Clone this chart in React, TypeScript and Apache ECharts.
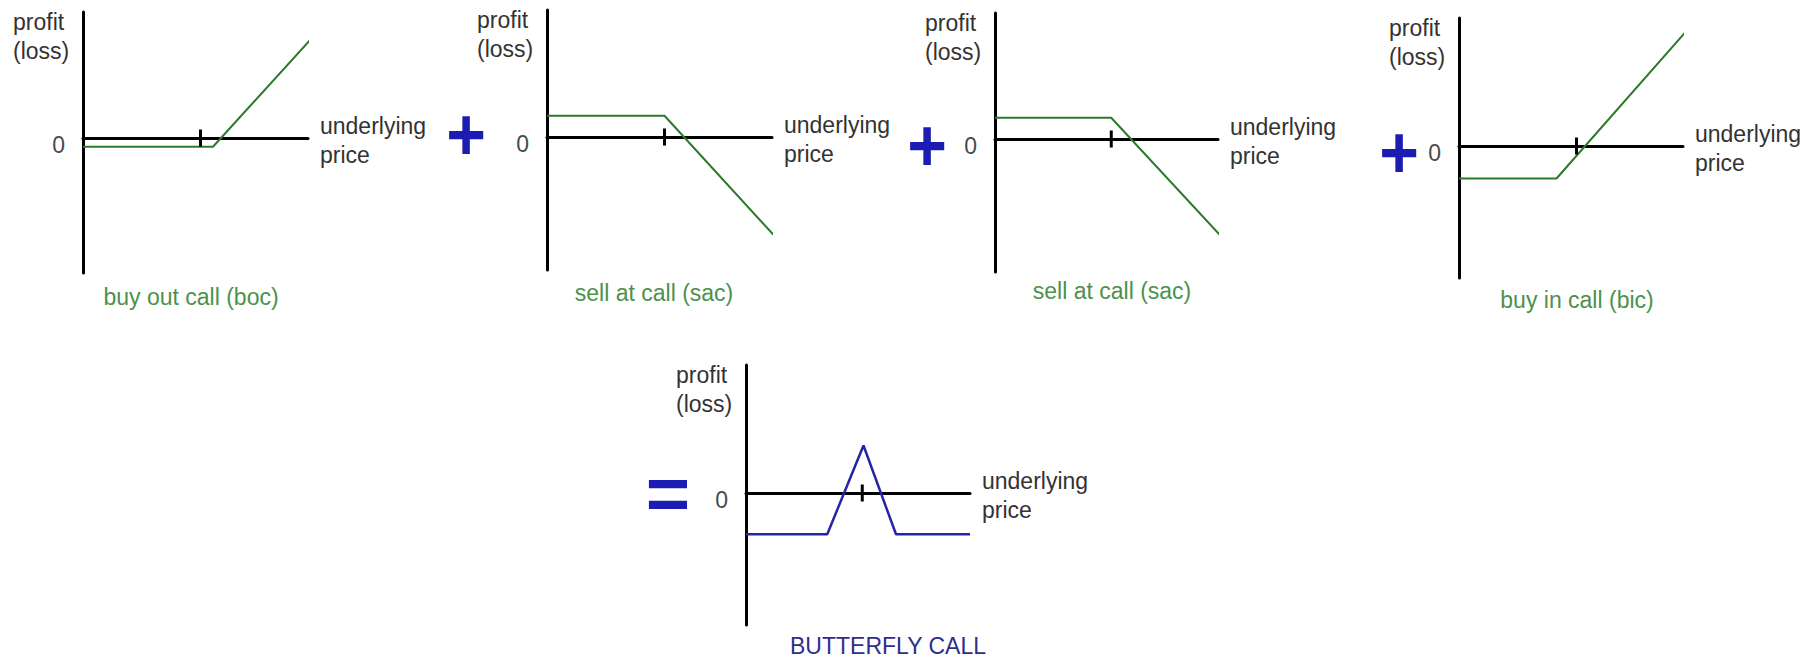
import React, { useEffect, useRef } from "react";
import * as echarts from "echarts";

// ---- data: payoff diagrams (price units on x, profit units on y) ----
const panelTitles = [
  "buy out call (boc)",
  "sell at call (sac)",
  "sell at call (sac)",
  "buy in call (bic)",
  "BUTTERFLY CALL",
];
const strikes = [47, 47, 46.5, 47, 46.5];
const bocPayoff = [[0, -3.5], [52, -3.5], [92, 40.5]];
const sacPayoff = [[0, 8.5], [47, 8.5], [90.5, -39]];
const sacPayoff2 = [[0, 8.5], [46.5, 8.5], [91, -39.5]];
const bicPayoff = [[0, -13], [39, -13], [90.5, 45.5]];
const butterflyPayoff = [[0, -16.5], [32.5, -16.5], [47, 19], [60, -16.5], [89.6, -16.5]];
const payoffs = [bocPayoff, sacPayoff, sacPayoff2, bicPayoff, butterflyPayoff];
const yAxisName = ["profit", "(loss)"];
const xAxisName = ["underlying", "price"];
const operators = ["+", "+", "+", "="];
const zeroLabel = "0";

// ---- layout (pixels) ----
const PX_PER_UNIT = 2.5;
const frames = [
  { left: 83, right: 308, top: 12, bottom: 273, zero: 138, cx: 191, cy: 297 },
  { left: 547, right: 772, top: 10, bottom: 270, zero: 137, cx: 654, cy: 293 },
  { left: 995, right: 1218, top: 13, bottom: 272, zero: 139, cx: 1112, cy: 291 },
  { left: 1459, right: 1683, top: 18, bottom: 278, zero: 146, cx: 1577, cy: 300 },
  { left: 746, right: 970, top: 365, bottom: 625, zero: 493, cx: 888, cy: 646 },
];
const operatorPos = [
  [466, 134],
  [927, 145],
  [1399, 152],
  [668, 493],
];

const FONT_FAMILY = '"Liberation Sans", Arial, sans-serif';
const LEG_GREEN = "#2b7a2b";
const CAPTION_GREEN = "#4c914c";
const RESULT_BLUE = "#2424a6";
const CAPTION_BLUE = "#2e2e8e";
const OPERATOR_BLUE = "#1c1cb2";
const TEXT_GRAY = "#333333";

export default function App() {
  const ref = useRef<HTMLDivElement>(null);

  useEffect(() => {
    if (!ref.current) return;
    const chart = echarts.init(ref.current, undefined, { renderer: "svg" });

    const grids = frames.map((f) => ({
      left: f.left,
      top: f.top,
      width: f.right - f.left,
      height: f.bottom - f.top,
      containLabel: false,
      outerBoundsMode: "none",
    }));

    const xAxes = frames.map((f, i) => ({
      type: "value",
      gridIndex: i,
      min: 0,
      max: (f.right - f.left) / PX_PER_UNIT,
      axisLine: { show: true, onZero: true, lineStyle: { color: "#000", width: 3 } },
      axisTick: { show: false },
      axisLabel: { show: false },
      splitLine: { show: false },
    }));

    const yAxes = frames.map((f, i) => ({
      type: "value",
      gridIndex: i,
      min: -(f.bottom - f.zero) / PX_PER_UNIT,
      max: (f.zero - f.top) / PX_PER_UNIT,
      axisLine: { show: true, onZero: true, lineStyle: { color: "#000", width: 3 } },
      axisTick: { show: false },
      splitLine: { show: false },
      axisLabel: {
        show: true,
        margin: 18,
        color: "#4a4a4a",
        fontSize: 23,
        fontFamily: FONT_FAMILY,
        verticalAlign: "top",
        lineHeight: 14,
        formatter: (v: number) => (Math.abs(v) < 1e-9 ? zeroLabel : ""),
      },
    }));

    const payoffSeries = payoffs.map((data, i) => ({
      type: "line",
      xAxisIndex: i,
      yAxisIndex: i,
      data,
      showSymbol: false,
      symbol: "none",
      clip: false,
      z: 3,
      lineStyle: { color: i === 4 ? RESULT_BLUE : LEG_GREEN, width: i === 4 ? 2.5 : 2 },
    }));

    const strikeSeries = strikes.map((k, i) => ({
      type: "line",
      xAxisIndex: i,
      yAxisIndex: i,
      data: [
        [k, -3.4],
        [k, 3.4],
      ],
      showSymbol: false,
      symbol: "none",
      clip: false,
      z: 4,
      lineStyle: { color: "#000", width: 3 },
    }));

    const textFont = `23px ${FONT_FAMILY}`;
    const graphics: any[] = [];
    frames.forEach((f, i) => {
      graphics.push({
        type: "text",
        x: f.left - 70,
        y: f.top + 10 - 14.5,
        style: {
          text: yAxisName.join("\n"),
          font: textFont,
          fill: TEXT_GRAY,
          lineHeight: 29,
          align: "left",
          verticalAlign: "top",
        },
      });
      graphics.push({
        type: "text",
        x: f.right + 12,
        y: f.zero - 26.5,
        style: {
          text: xAxisName.join("\n"),
          font: textFont,
          fill: TEXT_GRAY,
          lineHeight: 29,
          align: "left",
          verticalAlign: "top",
        },
      });
      graphics.push({
        type: "text",
        x: f.cx,
        y: f.cy,
        style: {
          text: panelTitles[i],
          font: textFont,
          fill: i === 4 ? CAPTION_BLUE : CAPTION_GREEN,
          align: "center",
          verticalAlign: "middle",
        },
      });
    });
    operators.forEach((op, i) => {
      graphics.push({
        type: "text",
        x: operatorPos[i][0],
        y: operatorPos[i][1],
        scaleY: op === "+" ? 1.1 : 1,
        style: {
          text: op,
          font: `bold ${op === "+" ? 68 : 76}px ${FONT_FAMILY}`,
          fill: OPERATOR_BLUE,
          align: "center",
          verticalAlign: "middle",
        },
      });
    });

    chart.setOption({
      animation: false,
      backgroundColor: "#ffffff",
      textStyle: { fontFamily: FONT_FAMILY },
      grid: grids,
      xAxis: xAxes,
      yAxis: yAxes,
      series: [...payoffSeries, ...strikeSeries],
      graphic: graphics,
    });

    return () => chart.dispose();
  }, []);

  return (
    <div
      ref={ref}
      style={{ position: "absolute", left: 0, top: 0, width: 1818, height: 658, background: "#fff" }}
    />
  );
}
